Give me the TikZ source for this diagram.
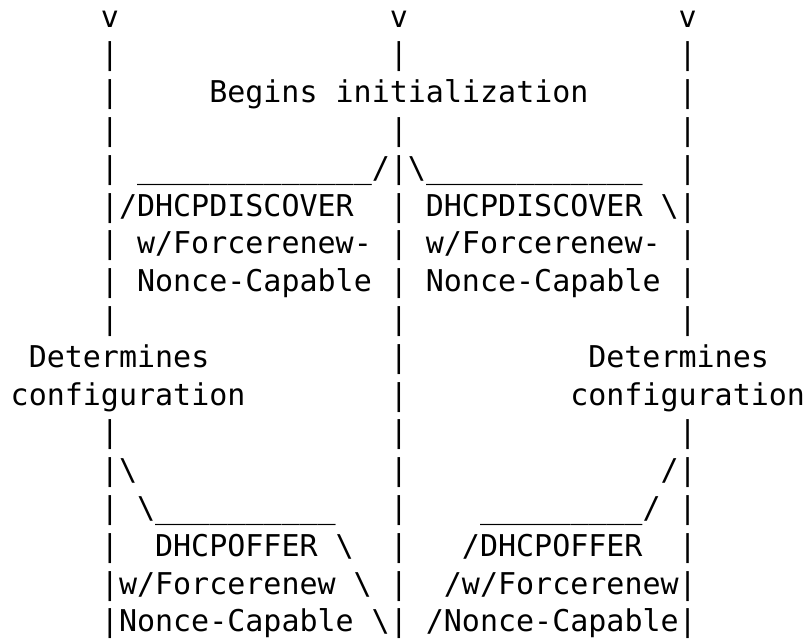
\documentclass[tikz,border=0pt]{standalone}
\usepackage{fontspec}
\newfontfamily\asciimono{DejaVu Sans Mono}[WordSpace={1,0,0}]
\tikzset{
  asciitxt/.style={anchor=base west, inner sep=0pt, outer sep=0pt,
    font=\asciimono\fontsize{30}{37.8}\selectfont, text=black}
}
% col = character column, row = line number (1 = top)
\newcommand\cellat[4]{\node[asciitxt] (#1) at ({10.7+18.05*#2},{-27-37.8*(#3-1)}) {#4};}
\newcommand\bsl{\textbackslash}
\begin{document}
\begin{tikzpicture}[x=1pt,y=1pt]
\useasboundingbox (0,0) rectangle (807,-640);
% line 1
\cellat{r1a}{5}{1}{v}
\cellat{r1b}{21}{1}{v}
\cellat{r1c}{37}{1}{v}
% line 2
\cellat{r2a}{5}{2}{|}
\cellat{r2b}{21}{2}{|}
\cellat{r2c}{37}{2}{|}
% line 3
\cellat{r3a}{5}{3}{|}
\cellat{r3b}{11}{3}{Begins initialization}
\cellat{r3c}{37}{3}{|}
% line 4
\cellat{r4a}{5}{4}{|}
\cellat{r4b}{21}{4}{|}
\cellat{r4c}{37}{4}{|}
% line 5
\cellat{r5a}{5}{5}{|}
\cellat{r5b}{7}{5}{\_\_\_\_\_\_\_\_\_\_\_\_\_/|\bsl\_\_\_\_\_\_\_\_\_\_\_\_}
\cellat{r5c}{37}{5}{|}
% line 6
\cellat{r6a}{5}{6}{|/DHCPDISCOVER}
\cellat{r6b}{21}{6}{|}
\cellat{r6c}{23}{6}{DHCPDISCOVER}
\cellat{r6d}{36}{6}{\bsl|}
% line 7
\cellat{r7a}{5}{7}{|}
\cellat{r7b}{7}{7}{w/Forcerenew-}
\cellat{r7c}{21}{7}{|}
\cellat{r7d}{23}{7}{w/Forcerenew-}
\cellat{r7e}{37}{7}{|}
% line 8
\cellat{r8a}{5}{8}{|}
\cellat{r8b}{7}{8}{Nonce-Capable}
\cellat{r8c}{21}{8}{|}
\cellat{r8d}{23}{8}{Nonce-Capable}
\cellat{r8e}{37}{8}{|}
% line 9
\cellat{r9a}{5}{9}{|}
\cellat{r9b}{21}{9}{|}
\cellat{r9c}{37}{9}{|}
% line 10
\cellat{r10a}{1}{10}{Determines}
\cellat{r10b}{21}{10}{|}
\cellat{r10c}{32}{10}{Determines}
% line 11
\cellat{r11a}{0}{11}{configuration}
\cellat{r11b}{21}{11}{|}
\cellat{r11c}{31}{11}{configuration}
% line 12
\cellat{r12a}{5}{12}{|}
\cellat{r12b}{21}{12}{|}
\cellat{r12c}{37}{12}{|}
% line 13
\cellat{r13a}{5}{13}{|\bsl}
\cellat{r13b}{21}{13}{|}
\cellat{r13c}{36}{13}{/|}
% line 14
\cellat{r14a}{5}{14}{|}
\cellat{r14b}{7}{14}{\bsl\_\_\_\_\_\_\_\_\_\_}
\cellat{r14c}{21}{14}{|}
\cellat{r14d}{26}{14}{\_\_\_\_\_\_\_\_\_/}
\cellat{r14e}{37}{14}{|}
% line 15
\cellat{r15a}{5}{15}{|}
\cellat{r15b}{8}{15}{DHCPOFFER}
\cellat{r15c}{18}{15}{\bsl}
\cellat{r15d}{21}{15}{|}
\cellat{r15e}{25}{15}{/DHCPOFFER}
\cellat{r15f}{37}{15}{|}
% line 16
\cellat{r16a}{5}{16}{|w/Forcerenew}
\cellat{r16b}{19}{16}{\bsl}
\cellat{r16c}{21}{16}{|}
\cellat{r16d}{24}{16}{/w/Forcerenew|}
% line 17
\cellat{r17a}{5}{17}{|Nonce-Capable}
\cellat{r17b}{20}{17}{\bsl|}
\cellat{r17c}{23}{17}{/Nonce-Capable|}
\end{tikzpicture}
\end{document}
